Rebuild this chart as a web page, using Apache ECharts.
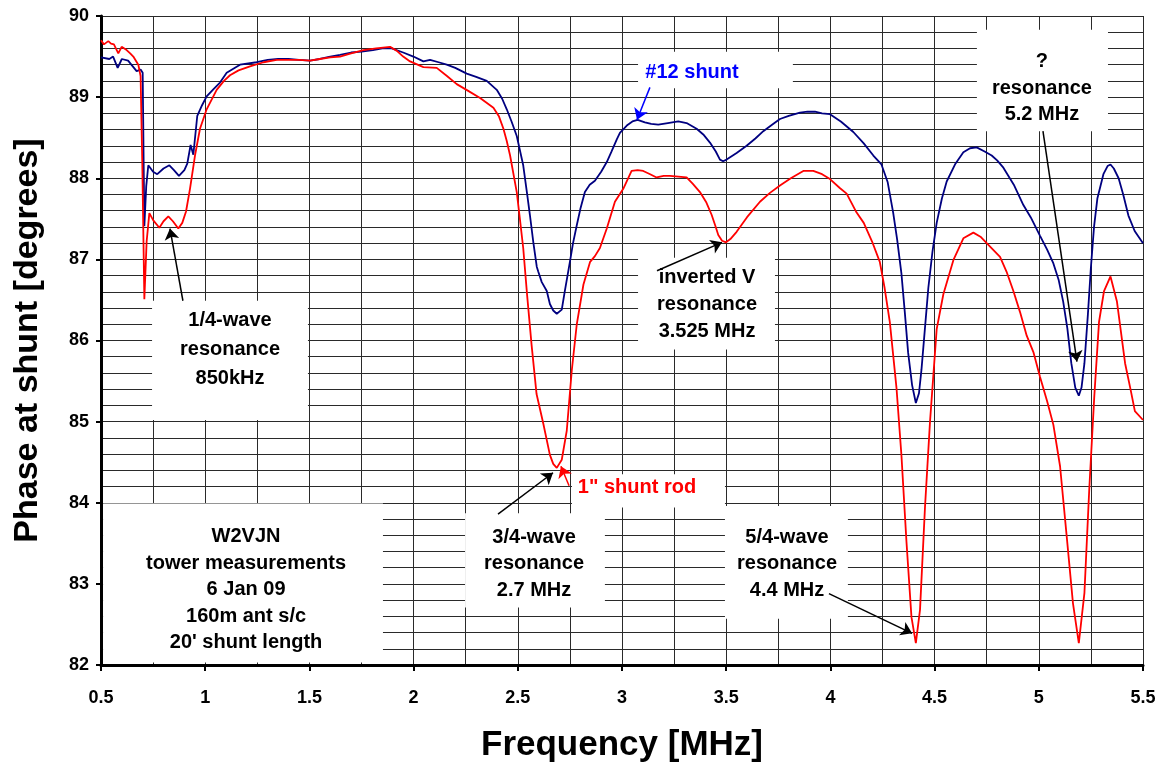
<!DOCTYPE html>
<html>
<head>
<meta charset="utf-8">
<script src="https://cdn.jsdelivr.net/npm/echarts@6/dist/echarts.min.js"></script>
<style>
html,body{margin:0;padding:0;background:#fff;}
#main{width:1162px;height:768px;}
</style>
</head>
<body>
<div id="main"></div>
<script>
// #12 shunt (blue)
var freqBlue = [0.500,0.540,0.558,0.580,0.600,0.630,0.671,0.690,0.700,0.708,0.717,0.727,0.750,0.770,0.800,0.828,0.850,0.874,0.900,0.914,0.930,0.943,0.962,0.985,1.007,1.040,1.071,1.103,1.135,1.167,1.247,1.300,1.350,1.400,1.450,1.503,1.550,1.600,1.647,1.700,1.750,1.805,1.850,1.895,1.950,1.999,2.047,2.079,2.120,2.159,2.200,2.255,2.300,2.351,2.399,2.425,2.447,2.470,2.495,2.526,2.545,2.558,2.575,2.591,2.598,2.615,2.639,2.654,2.670,2.687,2.711,2.725,2.750,2.765,2.783,2.800,2.822,2.845,2.870,2.900,2.927,2.950,2.975,2.990,3.023,3.050,3.075,3.110,3.140,3.174,3.220,3.270,3.310,3.358,3.390,3.422,3.450,3.470,3.485,3.502,3.550,3.598,3.640,3.678,3.720,3.758,3.800,3.854,3.890,3.926,3.960,3.998,4.050,4.110,4.160,4.206,4.245,4.275,4.301,4.320,4.341,4.357,4.373,4.392,4.410,4.425,4.437,4.452,4.470,4.490,4.510,4.535,4.558,4.600,4.638,4.670,4.702,4.740,4.774,4.800,4.830,4.880,4.926,4.961,5.006,5.040,5.070,5.095,5.117,5.137,5.156,5.175,5.192,5.205,5.219,5.235,5.250,5.265,5.281,5.310,5.330,5.344,5.360,5.383,5.405,5.430,5.460,5.500];
var phaseBlue = [89.49,89.47,89.50,89.36,89.47,89.45,89.32,89.34,89.30,87.41,87.90,88.16,88.08,88.05,88.12,88.16,88.10,88.03,88.10,88.18,88.41,88.29,88.77,88.90,89.01,89.10,89.18,89.30,89.35,89.40,89.43,89.46,89.47,89.47,89.46,89.45,89.47,89.50,89.52,89.55,89.56,89.58,89.60,89.60,89.55,89.50,89.44,89.46,89.43,89.40,89.36,89.29,89.25,89.20,89.09,88.98,88.85,88.70,88.52,88.16,87.80,87.55,87.20,86.91,86.85,86.72,86.61,86.45,86.37,86.33,86.38,86.60,86.97,87.20,87.42,87.62,87.83,87.92,87.97,88.08,88.20,88.33,88.48,88.56,88.65,88.70,88.72,88.69,88.67,88.66,88.68,88.70,88.68,88.61,88.54,88.44,88.33,88.23,88.21,88.23,88.31,88.40,88.49,88.58,88.66,88.73,88.77,88.81,88.82,88.82,88.80,88.79,88.70,88.57,88.43,88.28,88.17,87.95,87.58,87.25,86.82,86.35,85.85,85.45,85.23,85.35,85.64,86.10,86.65,87.10,87.45,87.75,87.96,88.18,88.32,88.37,88.38,88.33,88.28,88.22,88.13,87.92,87.67,87.52,87.29,87.12,86.95,86.75,86.48,86.15,85.72,85.42,85.32,85.42,85.72,86.30,86.90,87.40,87.75,88.05,88.15,88.17,88.12,88.00,87.80,87.54,87.35,87.20];

// 1" shunt rod (red)
var freqRed = [0.500,0.514,0.535,0.548,0.562,0.583,0.599,0.623,0.640,0.655,0.679,0.690,0.698,0.708,0.719,0.732,0.751,0.780,0.800,0.823,0.845,0.871,0.890,0.908,0.927,0.951,0.975,1.007,1.055,1.090,1.119,1.160,1.215,1.280,1.343,1.400,1.450,1.503,1.550,1.600,1.647,1.700,1.759,1.820,1.887,1.920,1.950,1.983,2.047,2.111,2.160,2.207,2.260,2.319,2.383,2.410,2.431,2.447,2.463,2.495,2.510,2.526,2.545,2.566,2.590,2.622,2.654,2.670,2.687,2.711,2.735,2.759,2.783,2.815,2.847,2.870,2.894,2.927,2.966,3.006,3.046,3.075,3.102,3.135,3.166,3.200,3.230,3.270,3.310,3.340,3.374,3.405,3.430,3.447,3.462,3.480,3.499,3.520,3.550,3.600,3.662,3.710,3.758,3.810,3.870,3.918,3.960,3.998,4.045,4.078,4.125,4.160,4.200,4.237,4.260,4.285,4.300,4.317,4.341,4.365,4.389,4.410,4.430,4.454,4.478,4.510,4.542,4.590,4.638,4.686,4.720,4.750,4.814,4.845,4.878,4.910,4.942,4.975,5.006,5.040,5.070,5.102,5.133,5.164,5.192,5.219,5.242,5.266,5.289,5.313,5.344,5.375,5.414,5.440,5.461,5.500];
var phaseRed = [89.70,89.65,89.69,89.66,89.65,89.54,89.62,89.58,89.54,89.50,89.40,89.26,88.20,86.51,87.22,87.57,87.48,87.39,87.47,87.53,87.47,87.38,87.45,87.59,87.87,88.28,88.61,88.85,89.09,89.20,89.27,89.33,89.38,89.43,89.46,89.46,89.46,89.45,89.47,89.49,89.50,89.54,89.58,89.60,89.62,89.57,89.50,89.44,89.37,89.36,89.26,89.16,89.08,88.99,88.87,88.76,88.61,88.46,88.28,87.83,87.50,87.14,86.55,85.95,85.34,84.98,84.59,84.48,84.43,84.53,84.89,85.63,86.20,86.69,86.97,87.04,87.14,87.38,87.71,87.87,88.09,88.10,88.09,88.05,88.01,88.03,88.03,88.02,88.01,87.93,87.83,87.70,87.55,87.42,87.30,87.23,87.21,87.25,87.34,87.52,87.71,87.82,87.91,88.00,88.09,88.09,88.05,87.99,87.88,87.81,87.58,87.45,87.22,86.97,86.65,86.23,85.85,85.42,84.58,83.52,82.59,82.27,82.68,83.95,85.00,86.14,86.57,86.99,87.26,87.33,87.28,87.20,87.03,86.85,86.61,86.35,86.06,85.85,85.55,85.25,84.96,84.45,83.61,82.76,82.27,82.89,84.16,85.30,86.23,86.61,86.79,86.48,85.72,85.40,85.13,85.02];

var xTicks = ['0.5','1','1.5','2','2.5','3','3.5','4','4.5','5','5.5'];
var yTicks = ['82','83','84','85','86','87','88','89','90'];

// annotations, in data units: box [x1,y1,x2,y2], text centre [x,y]
var notes = [
	{text:'1/4-wave\nresonance\n850kHz', box:[0.745,86.49,1.493,85.02], at:[1.119,85.89], lh:29, color:'#000'},
	{text:'W2VJN\ntower measurements\n6 Jan 09\n160m ant s/c\n20\' shunt length', box:[0.51,83.99,1.853,82.03], at:[1.196,82.93], lh:26.5, color:'#000'},
	{text:'#12 shunt', box:[3.077,89.56,3.82,89.11], at:[3.336,89.30], lh:22, color:'#0000ff'},
	{text:'?\nresonance\n5.2 MHz', box:[4.703,89.83,5.332,88.58], at:[5.015,89.11], lh:26.5, color:'#000'},
	{text:'inverted V\nresonance\n3.525 MHz', box:[3.077,87.02,3.734,85.89], at:[3.408,86.45], lh:27, color:'#000'},
	{text:'3/4-wave\nresonance\n2.7 MHz', box:[2.247,83.87,2.918,82.71], at:[2.578,83.25], lh:26.5, color:'#000'},
	{text:'1" shunt rod', box:[2.76,84.35,3.494,83.94], at:[3.072,84.19], lh:22, color:'#ff0000'},
	{text:'5/4-wave\nresonance\n4.4 MHz', box:[3.494,83.96,4.084,82.57], at:[3.792,83.25], lh:26.5, color:'#000'}
];
var arrows = [
	{from:[0.893,86.49], to:[0.831,87.38], color:'#000'},
	{from:[3.134,89.12], to:[3.072,88.72], color:'#0000ff'},
	{from:[3.168,86.86], to:[3.480,87.21], color:'#000'},
	{from:[5.020,88.58], to:[5.183,85.74], color:'#000'},
	{from:[2.405,83.86], to:[2.669,84.37], color:'#000'},
	{from:[2.746,84.21], to:[2.707,84.45], color:'#ff0000'},
	{from:[3.993,82.88], to:[4.392,82.39], color:'#000'}
];

var font = '"Liberation Sans", Arial, sans-serif';

function pairs(xs, ys){
	var out = [];
	for(var i = 0;i<xs.length;i++){
		out.push([xs[i], ys[i]]);
	}
	return out;
}

var chart = echarts.init(document.getElementById('main'));
var option = {
	animation:false,
	backgroundColor:'#fff',
	grid:{left:101, right:19, top:16, bottom:98, containLabel:false},
	xAxis:{
		type:'value', min:0.5, max:5.5, interval:0.5,
		axisLine:{show:true, onZero:false, lineStyle:{color:'#000', width:3}},
		axisTick:{show:true, length:6, lineStyle:{color:'#000', width:2}},
		minorTick:{show:false, splitNumber:2},
		splitLine:{show:true, lineStyle:{color:'#2a2a2a', width:1}},
		minorSplitLine:{show:true, lineStyle:{color:'#2a2a2a', width:1}},
		axisLabel:{margin:24, fontSize:18, fontWeight:'bold', color:'#000', fontFamily:font,
			formatter:function(v){ return xTicks[Math.round((v-0.5)/0.5)]; }},
		name:'Frequency [MHz]', nameLocation:'middle', nameGap:63,
		nameTextStyle:{fontSize:35, fontWeight:'bold', color:'#000', fontFamily:font}
	},
	yAxis:{
		type:'value', min:82, max:90, interval:1,
		axisLine:{show:true, onZero:false, lineStyle:{color:'#000', width:3}},
		axisTick:{show:true, length:5, lineStyle:{color:'#000', width:2}},
		minorTick:{show:false, splitNumber:5},
		splitLine:{show:true, lineStyle:{color:'#2a2a2a', width:1}},
		minorSplitLine:{show:true, lineStyle:{color:'#2a2a2a', width:1}},
		axisLabel:{margin:12, fontSize:18, fontWeight:'bold', color:'#000', fontFamily:font,
			formatter:function(v){ return yTicks[Math.round(v-82)]; }},
		name:'Phase at shunt [degrees]', nameLocation:'middle', nameGap:56,
		nameTextStyle:{fontSize:34, fontWeight:'bold', color:'#000', fontFamily:font}
	},
	series:[
		{
			name:'#12 shunt', type:'line', data:pairs(freqBlue, phaseBlue),
			symbol:'none', z:3, lineStyle:{color:'#000080', width:1.8}
		},
		{
			name:'1" shunt rod', type:'line', data:pairs(freqRed, phaseRed),
			symbol:'none', z:3, lineStyle:{color:'#ff0000', width:1.8}
		},
		{
			name:'arrows', type:'line', data:[], z:6,
			markLine:{
				silent:true, symbol:['none','arrow'], symbolSize:11,
				label:{show:false},
				data:arrows.map(function(a){
					return [{coord:a.from, lineStyle:{color:a.color, width:1.5, type:'solid'}},
						{coord:a.to, itemStyle:{color:a.color}}];
				})
			}
		}
	]
};
chart.setOption(option);

var graphics = [];
for(var i = 0;i<notes.length;i++){
	var n = notes[i];
	var p1 = chart.convertToPixel({gridIndex:0}, [n.box[0], n.box[1]]);
	var p2 = chart.convertToPixel({gridIndex:0}, [n.box[2], n.box[3]]);
	var c = chart.convertToPixel({gridIndex:0}, n.at);
	graphics.push({
		type:'rect', z:1,
		shape:{x:p1[0], y:p1[1], width:p2[0]-p1[0], height:p2[1]-p1[1]},
		style:{fill:'#fff'}
	});
	graphics.push({
		type:'text', z:5,
		x:c[0], y:c[1],
		style:{text:n.text, fill:n.color, font:'bold 20px ' + font,
			textAlign:'center', textVerticalAlign:'middle', lineHeight:n.lh}
	});
}
chart.setOption({graphic:graphics});
</script>
</body>
</html>
